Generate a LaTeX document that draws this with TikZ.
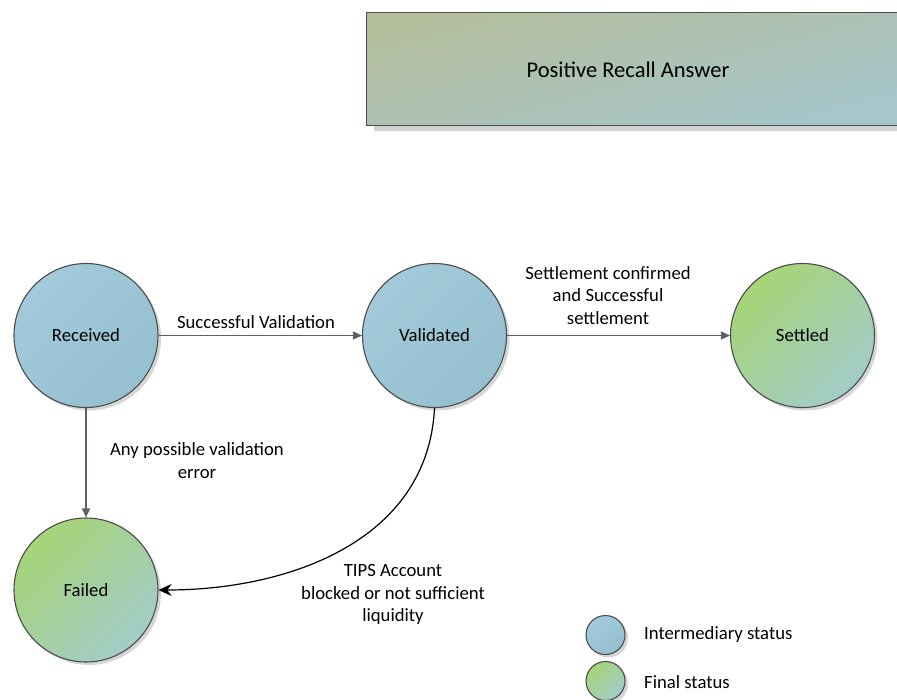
\documentclass[tikz,border=0pt]{standalone}
\usepackage{fontspec}
\setmainfont{Carlito}
\usetikzlibrary{arrows.meta,shadows}
\definecolor{bluetl}{HTML}{A2CADA}
\definecolor{bluebr}{HTML}{95C0CF}
\definecolor{greentl}{HTML}{A6D476}
\definecolor{greenmid}{HTML}{A8D083}
\definecolor{greenbr}{HTML}{A2CCC8}
\definecolor{boxtl}{HTML}{B4BE9D}
\definecolor{boxmid}{HTML}{B0BEA3}
\definecolor{boxbr}{HTML}{A6C6CC}
\definecolor{arrowgray}{HTML}{5E6068}
\definecolor{rimgray}{HTML}{4C4C4C}
\begin{document}
\begin{tikzpicture}[x=1pt,y=-1pt,
  font=\fontsize{18.7}{22.5}\selectfont,
  state/.style={circle, draw=rimgray, line width=1.1pt, minimum size=144pt, inner sep=0pt,
    drop shadow={shadow xshift=3pt, shadow yshift=-3pt, fill=black!16, opacity=1}},
  inter/.style={state, top color=bluetl, bottom color=bluebr, shading angle=45},
  final/.style={state, top color=greentl, middle color=greenmid, bottom color=greenbr, shading angle=45},
  legendmark/.style={minimum size=39pt,
    drop shadow={shadow xshift=2.5pt, shadow yshift=-2.5pt, fill=black!16, opacity=1}},
  garrow/.style={draw=arrowgray, line width=1.1pt, -{Triangle[length=9pt,width=8pt]}},
  lbl/.style={align=center, inner sep=0pt}]
\useasboundingbox (0,0) rectangle (897,699);
\fill[white] (0,0) rectangle (897,699);

% top box
\node[draw=rimgray, line width=1pt, minimum width=545pt, minimum height=113pt,
  anchor=north west, top color=boxtl, middle color=boxmid, bottom color=boxbr, shading angle=15,
  drop shadow={shadow xshift=7pt, shadow yshift=-5pt, fill=black!18, opacity=1}] (box) at (366,12) {};
\node[lbl, font=\fontsize{22.5}{27}\selectfont] (title) at (628,70) {Positive Recall Answer};

% states
\node[inter] (rec) at (86,335.5) {Received};
\node[inter] (val) at (434.5,335.5) {Validated};
\node[final] (set) at (802.5,335.5) {Settled};
\node[final] (fail) at (86,590) {Failed};

% transitions
\draw[garrow] (rec) -- (val);
\node[lbl] (l1) at (256,322) {Successful Validation};
\draw[garrow] (val) -- (set);
\node[lbl] (l2) at (608,295.5) {Settlement confirmed\\and Successful\\settlement};
\draw[garrow] (rec) -- (fail);
\node[lbl] (l3) at (197,460.5) {Any possible validation\\error};
\draw[line width=1.2pt, -{Stealth[length=13pt,width=12pt]}]
  (val.south) .. controls (428,540) and (290,590) .. (fail.east);
\node[lbl] (l4) at (393,594.5) {TIPS Account\\blocked or not sufficient\\liquidity};

% legend
\node[inter, legendmark] (legi) at (605.5,635) {};
\node[final, legendmark] (legf) at (605.5,681) {};
\node[lbl, anchor=west] (legit) at (644,635) {Intermediary status};
\node[lbl, anchor=west] (legft) at (644,682) {Final status};
\end{tikzpicture}
\end{document}
